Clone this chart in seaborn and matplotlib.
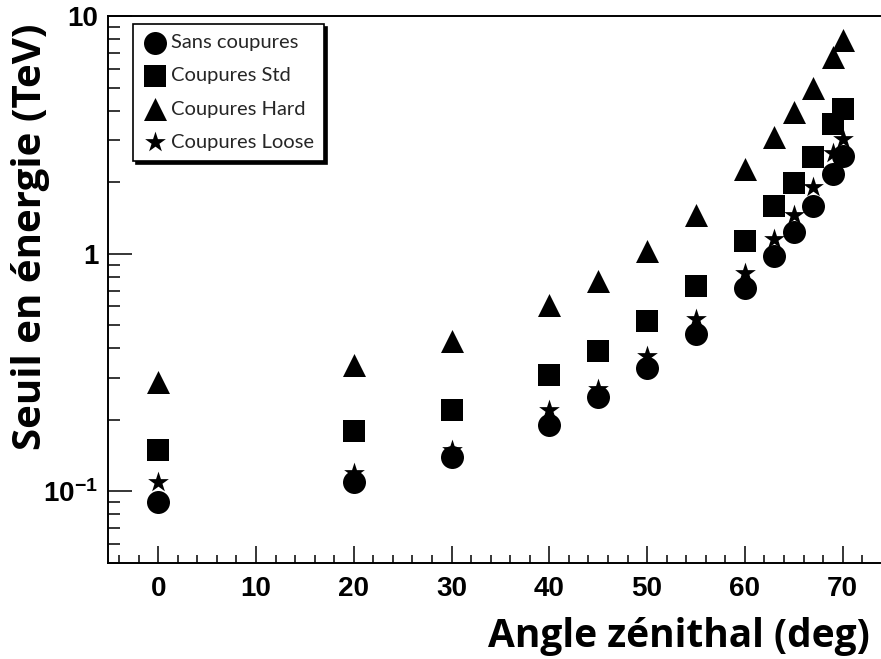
import numpy as np
import pandas as pd
import matplotlib
matplotlib.use("Agg")
import matplotlib.pyplot as plt
from matplotlib.ticker import FixedLocator, FixedFormatter, LogLocator, MultipleLocator, NullFormatter
import seaborn as sns

# Zenith angles (deg) and energy thresholds (TeV) for each cut set
angles = [0, 20, 30, 40, 45, 50, 55, 60, 63, 65, 67, 69, 70]
sans_coupures = [0.09, 0.11, 0.14, 0.19, 0.25, 0.33, 0.46, 0.72, 0.98, 1.23, 1.59, 2.16, 2.58]
coupures_std = [0.15, 0.18, 0.22, 0.31, 0.39, 0.52, 0.73, 1.13, 1.58, 1.98, 2.54, 3.50, 4.08]
coupures_hard = [0.29, 0.34, 0.43, 0.61, 0.77, 1.03, 1.46, 2.27, 3.11, 3.93, 5.00, 6.70, 7.90]
coupures_loose = [0.11, 0.12, 0.15, 0.22, 0.27, 0.37, 0.53, 0.83, 1.15, 1.45, 1.90, 2.66, 3.03]

series_names = ["Sans coupures", "Coupures Std", "Coupures Hard", "Coupures Loose"]
series_values = [sans_coupures, coupures_std, coupures_hard, coupures_loose]
series_markers = ["o", "s", "^", "*"]
series_sizes = [274, 250, 274, 246]

y_tick_values = [0.1, 1, 10]
y_tick_labels = [r"$\mathbf{10^{-1}}$", "1", "10"]
x_tick_values = [0, 10, 20, 30, 40, 50, 60, 70]

sns.set_theme(style="white")
plt.rcParams["font.family"] = ["Liberation Sans", "DejaVu Sans"]
plt.rcParams["mathtext.fontset"] = "custom"
plt.rcParams["mathtext.bf"] = "Liberation Sans:bold"
plt.rcParams["mathtext.rm"] = "Liberation Sans"

fig = plt.figure(figsize=(8.81, 6.59), dpi=100)
ax = fig.add_axes([108 / 881, 1 - 563 / 659, 772 / 881, 547 / 659])

frames = []
for name, vals in zip(series_names, series_values):
    frames.append(pd.DataFrame({"angle": angles, "seuil": vals, "coupure": name}))
df = pd.concat(frames, ignore_index=True)

for name, marker, size in zip(series_names, series_markers, series_sizes):
    sub = df[df["coupure"] == name]
    sns.scatterplot(data=sub, x="angle", y="seuil", marker=marker, s=size,
                    color="black", edgecolor="black", linewidth=0,
                    label=name, ax=ax, zorder=3)

ax.set_yscale("log")
ax.set_ylim(0.05, 10)
ax.set_xlim(-5.14, 73.82)

# Axis ticks: inside, on left and bottom only
ax.xaxis.set_major_locator(FixedLocator(x_tick_values))
ax.xaxis.set_minor_locator(MultipleLocator(2))
ax.yaxis.set_major_locator(FixedLocator(y_tick_values))
ax.yaxis.set_major_formatter(FixedFormatter(y_tick_labels))
ax.yaxis.set_minor_locator(LogLocator(base=10, subs=np.arange(2, 10)))
ax.yaxis.set_minor_formatter(NullFormatter())

ax.tick_params(axis="x", which="major", direction="in", length=12, width=1.1,
               labelsize=20, pad=9, bottom=True, top=False, colors="black")
ax.tick_params(axis="x", which="minor", direction="in", length=6, width=1.1,
               bottom=True, top=False, colors="black")
ax.tick_params(axis="y", which="major", direction="in", length=17, width=1.1,
               labelsize=20, pad=7, left=True, right=False, colors="black")
ax.tick_params(axis="y", which="minor", direction="in", length=8.5, width=1.1,
               left=True, right=False, colors="black")
for lab in ax.get_xticklabels() + ax.get_yticklabels():
    lab.set_fontweight("bold")

for side in ["left", "bottom", "top"]:
    ax.spines[side].set_color("black")
    ax.spines[side].set_linewidth(1.4)
ax.spines["right"].set_visible(False)

ax.set_xlabel("Angle zénithal (deg)", fontsize=28, fontweight="bold",
              family=["Open Sans", "DejaVu Sans"], color="black")
ax.xaxis.label.set_ha("right")
ax.xaxis.label.set_va("center")
ax.xaxis.set_label_coords(0.987, -0.135)

ax.set_ylabel("Seuil en énergie (TeV)", fontsize=29, fontweight="bold",
              family=["Open Sans", "DejaVu Sans"], color="black")
ax.yaxis.label.set_va("center")
ax.yaxis.set_label_coords(-0.101, 0.596)

leg = ax.legend(loc="upper left", bbox_to_anchor=(0.0324, 0.9854), borderaxespad=0,
                frameon=True, fancybox=False, framealpha=1,
                shadow={"color": "black", "alpha": 1},
                edgecolor="black", prop={"family": ["Lato", "DejaVu Sans"], "size": 14.5},
                handlelength=1.2, handletextpad=0.2, labelspacing=0.8,
                borderpad=0.5)
leg.get_frame().set_linewidth(1.2)

fig.savefig("out.png", dpi=100)
